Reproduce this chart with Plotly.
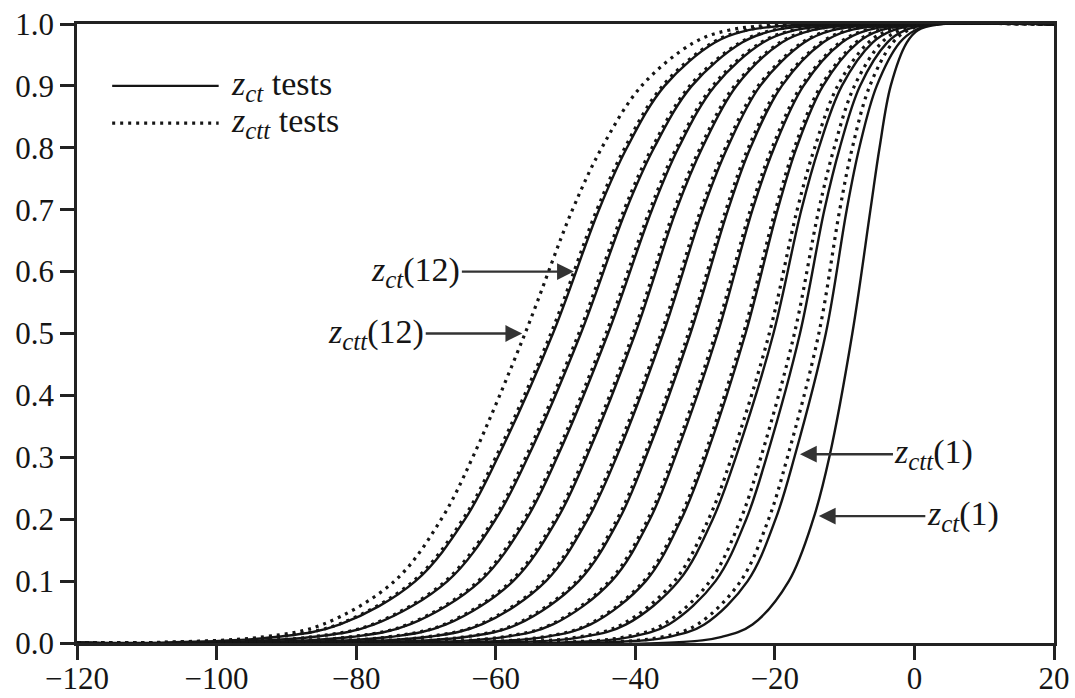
import plotly.graph_objects as go

# Cumulative probability levels at which the curves were read
prob_levels = [0.0, 0.001, 0.01, 0.03, 0.1, 0.2, 0.3, 0.5, 0.7, 0.8, 0.9, 0.97, 0.99, 0.999, 1.0]

# z_ct(k) tests, k = 1..12 : statistic value reached at each probability level
zct_quantiles = [
    [-120, -34.4, -27.6, -23.2, -18.0, -14.5, -12.2, -8.9, -6.3, -5.0, -3.4, -1.1, 0.5, 3.4, 20],
    [-120, -44.1, -35.1, -30.1, -23.9, -19.9, -17.2, -12.7, -9.7, -7.9, -5.4, -2.1, 0.1, 2.8, 20],
    [-120, -50.3, -40.6, -35.2, -28.5, -24.1, -21.2, -16.4, -12.9, -10.7, -7.8, -3.9, -1.3, 2.2, 20],
    [-120, -58.3, -47.4, -41.3, -33.8, -28.9, -25.6, -20.2, -16.2, -13.7, -10.4, -6.0, -3.0, 1.4, 20],
    [-120, -64.2, -52.8, -46.4, -38.5, -33.4, -29.9, -24.2, -19.6, -16.9, -13.1, -8.1, -4.8, 0.5, 20],
    [-120, -70.8, -58.6, -51.8, -43.4, -37.9, -34.3, -28.2, -23.2, -20.1, -15.9, -10.4, -6.7, -0.8, 20],
    [-120, -76.9, -64.1, -56.9, -48.1, -42.3, -38.5, -32.1, -26.7, -23.5, -19.0, -13.1, -9.2, -2.6, 20],
    [-120, -83.0, -69.6, -62.0, -52.8, -46.8, -42.7, -36.0, -30.3, -26.8, -22.1, -15.8, -11.7, -4.7, 20],
    [-120, -89.0, -75.0, -67.1, -57.5, -51.2, -47.0, -40.0, -34.1, -30.4, -25.5, -19.0, -14.6, -7.4, 20],
    [-120, -95.1, -80.5, -72.3, -62.2, -55.6, -51.2, -43.9, -37.6, -33.8, -28.6, -21.7, -17.1, -9.5, 20],
    [-120, -101.3, -86.0, -77.4, -66.9, -60.0, -55.4, -47.8, -41.3, -37.3, -31.9, -24.7, -20.0, -12.0, 20],
    [-120, -107.0, -91.2, -82.3, -71.5, -64.4, -59.7, -51.8, -45.2, -41.2, -35.8, -28.6, -23.8, -15.8, 20],
]

# z_ctt(k) tests, k = 1..12
zctt_quantiles = [
    [-120, -45.1, -36.1, -31.1, -24.9, -20.9, -18.2, -13.7, -10.7, -8.9, -6.4, -3.1, -0.9, 1.8, 20],
    [-120, -51.1, -41.4, -36.0, -29.3, -24.9, -22.0, -17.2, -13.7, -11.5, -8.6, -4.7, -2.1, 1.4, 20],
    [-120, -58.9, -48.0, -41.9, -34.4, -29.5, -26.2, -20.8, -16.8, -14.3, -11.0, -6.6, -3.6, 0.8, 20],
    [-120, -64.5, -53.1, -46.7, -38.8, -33.7, -30.2, -24.5, -19.9, -17.2, -13.4, -8.4, -5.1, 0.2, 20],
    [-120, -71.1, -58.9, -52.1, -43.7, -38.2, -34.6, -28.5, -23.5, -20.4, -16.2, -10.7, -7.0, -1.1, 20],
    [-120, -77.2, -64.4, -57.2, -48.4, -42.6, -38.8, -32.4, -27.0, -23.8, -19.3, -13.4, -9.5, -2.9, 20],
    [-120, -83.3, -69.9, -62.3, -53.1, -47.1, -43.0, -36.3, -30.6, -27.1, -22.4, -16.1, -12.0, -5.0, 20],
    [-120, -89.3, -75.3, -67.4, -57.8, -51.5, -47.3, -40.3, -34.4, -30.7, -25.8, -19.3, -14.9, -7.7, 20],
    [-120, -95.4, -80.8, -72.6, -62.5, -55.9, -51.5, -44.2, -37.9, -34.1, -28.9, -22.0, -17.4, -9.8, 20],
    [-120, -101.6, -86.3, -77.7, -67.2, -60.3, -55.7, -48.1, -41.6, -37.6, -32.2, -25.0, -20.3, -12.3, 20],
    [-120, -107.3, -91.5, -82.6, -71.8, -64.7, -60.0, -52.1, -45.5, -41.5, -36.1, -28.9, -24.1, -16.1, 20],
    [-120, -108.2, -93.2, -84.8, -74.5, -67.8, -63.3, -55.8, -49.0, -44.8, -39.1, -31.6, -26.6, -18.2, 20],
]

x_ticks = [-120, -100, -80, -60, -40, -20, 0, 20]
y_ticks = [0.0, 0.1, 0.2, 0.3, 0.4, 0.5, 0.6, 0.7, 0.8, 0.9, 1.0]

LBL = 34   # label font size
SUB = 25   # subscript font size


def zname(sub, tail):
    return (f'<span style="font-style:italic;font-size:{LBL}px">z</span>'
            f'<sub><span style="font-style:italic;font-size:{SUB}px">{sub}</span></sub>'
            f'<span style="font-size:{LBL}px">{tail}</span>')


# labelled curves: (text, statistic, probability, pixel offset of label)
curve_labels = [
    (zname("ct", "(12)"), -48.8, 0.60, -158),
    (zname("ctt", "(12)"), -56.2, 0.50, -146),
    (zname("ctt", "(1)"), -16.4, 0.305, 134),
    (zname("ct", "(1)"), -13.7, 0.205, 144),
]

INK = "#151515"
FONT = "Liberation Serif"

fig = go.Figure()

for k, xs in enumerate(zct_quantiles, start=1):
    fig.add_trace(go.Scatter(
        x=xs, y=prob_levels, mode="lines", name=f"z_ct({k})",
        line=dict(color=INK, width=2.4, shape="spline", smoothing=1.0),
        showlegend=False, hoverinfo="skip"))

for k, xs in enumerate(zctt_quantiles, start=1):
    fig.add_trace(go.Scatter(
        x=xs, y=prob_levels, mode="lines", name=f"z_ctt({k})",
        line=dict(color=INK, width=3.2, dash="3px,5px", shape="spline", smoothing=1.0),
        showlegend=False, hoverinfo="skip"))

# legend drawn as key lines + text
x0_key, x1_key, x_text = 0.036, 0.145, 0.156
legend_rows = [("solid", 2.4, 0.90, zname("ct", " tests")),
               ("3px,5px", 3.2, 0.84, zname("ctt", " tests"))]
for dash, w, yk, txt in legend_rows:
    fig.add_shape(type="line", xref="paper", yref="paper", x0=x0_key, x1=x1_key, y0=yk, y1=yk,
                  line=dict(color=INK, width=w, dash=dash))
    fig.add_annotation(xref="paper", yref="paper", x=x_text, y=yk, text=txt, showarrow=False,
                       xanchor="left", yanchor="middle", font=dict(family=FONT, size=LBL, color=INK))

for txt, xv, yv, off in curve_labels:
    fig.add_annotation(x=xv, y=yv, xref="x", yref="y", text=txt, showarrow=True,
                       ax=off, ay=0, arrowhead=2, arrowsize=1.4, arrowwidth=2.4,
                       arrowcolor="#333", standoff=0,
                       font=dict(family=FONT, size=LBL, color=INK))

axis_style = dict(showline=True, linewidth=2.6, linecolor="#222", mirror=True,
                  ticks="outside", ticklen=14, tickwidth=2.6, tickcolor="#222",
                  showgrid=False, zeroline=False, automargin=False,
                  tickfont=dict(family=FONT, size=31, color=INK))

fig.update_xaxes(range=[-120, 20], tickvals=x_ticks, ticklabelstandoff=-8, **axis_style)
fig.update_yaxes(range=[0, 1], tickvals=y_ticks, tickformat=".1f", **axis_style)

fig.update_layout(width=1075, height=698,
                  margin=dict(l=77, r=21, t=24, b=55, autoexpand=False),
                  plot_bgcolor="white", paper_bgcolor="white",
                  showlegend=False,
                  font=dict(family=FONT, size=LBL, color=INK))

fig.write_html("out.html", config={"displayModeBar": False},
               post_script="document.body.style.margin='0';document.body.style.overflow='hidden';")
